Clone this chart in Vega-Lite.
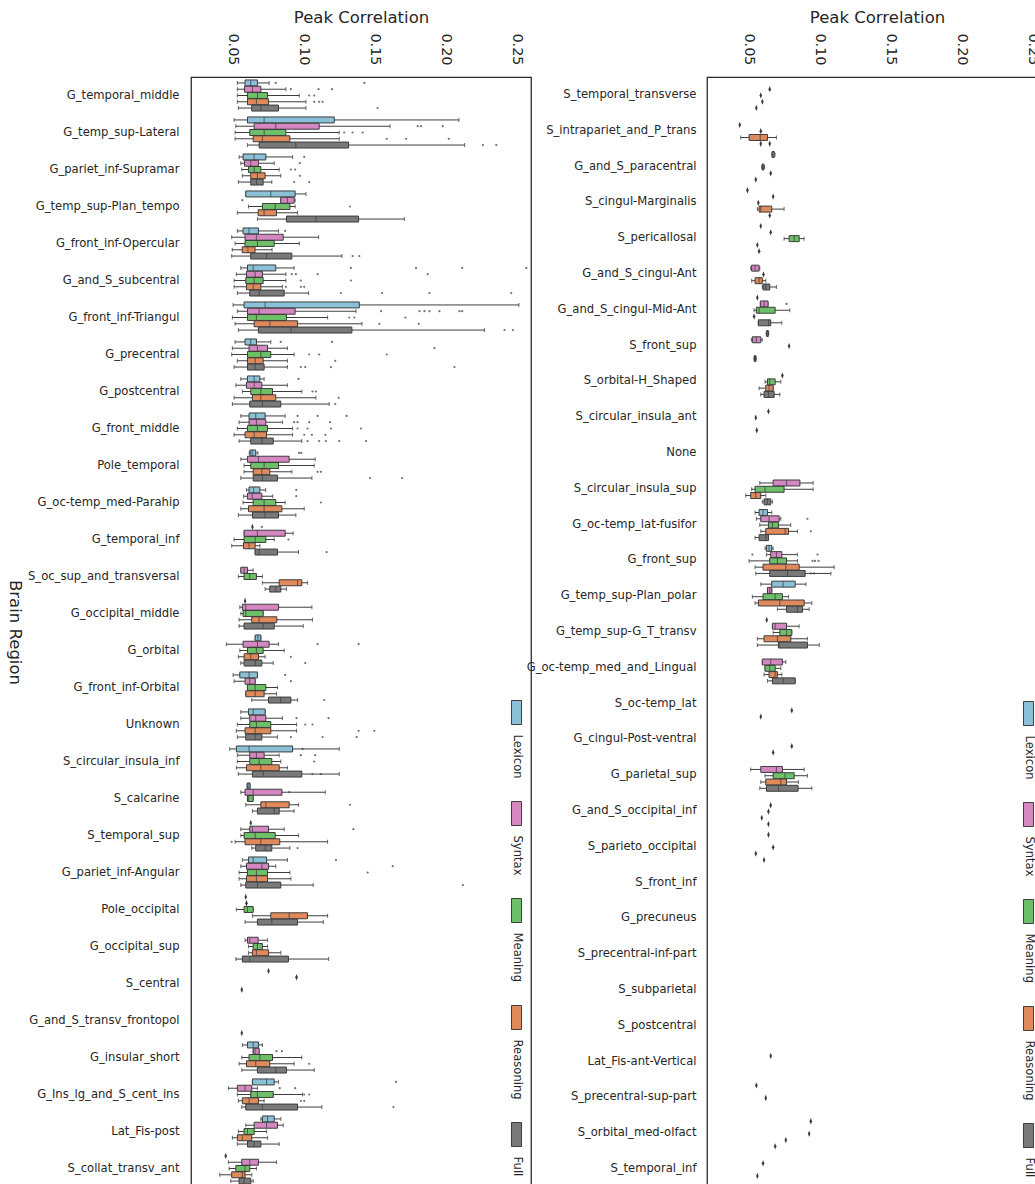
{
"$schema": "https://vega.github.io/schema/vega-lite/v6.json",
"autosize": {"type": "pad"},
"padding": {"left": 4, "top": 9, "right": 0, "bottom": 0},
"background": "white",
"config": {
 "font": "DejaVu Sans",
 "view": {"stroke": "#262626", "strokeWidth": 1.25},
 "axis": {"labelColor": "#262626", "titleColor": "#262626", "grid": false, "ticks": false, "domain": false},
 "tick": {"thickness": 1.1}
},
"datasets": {
"boxes": [
{"p":1,"r":"G_temporal_middle","c":"Lexicon","lo":0.0536,"q1":0.059,"md":0.063,"q3":0.0677,"hi":0.0759},
{"p":1,"r":"G_temporal_middle","c":"Syntax","lo":0.0536,"q1":0.0586,"md":0.0642,"q3":0.0701,"hi":0.0877},
{"p":1,"r":"G_temporal_middle","c":"Meaning","lo":0.0536,"q1":0.0607,"md":0.0677,"q3":0.0748,"hi":0.0971},
{"p":1,"r":"G_temporal_middle","c":"Reasoning","lo":0.0536,"q1":0.0607,"md":0.067,"q3":0.0755,"hi":0.1018},
{"p":1,"r":"G_temporal_middle","c":"Full","lo":0.0543,"q1":0.0637,"md":0.0701,"q3":0.0825,"hi":0.1018},
{"p":1,"r":"G_temp_sup-Lateral","c":"Lexicon","lo":0.0513,"q1":0.0607,"md":0.0724,"q3":0.1217,"hi":0.2093},
{"p":1,"r":"G_temp_sup-Lateral","c":"Syntax","lo":0.0525,"q1":0.0654,"md":0.0806,"q3":0.1111,"hi":0.1609},
{"p":1,"r":"G_temp_sup-Lateral","c":"Meaning","lo":0.052,"q1":0.0623,"md":0.0724,"q3":0.0877,"hi":0.1252},
{"p":1,"r":"G_temp_sup-Lateral","c":"Reasoning","lo":0.052,"q1":0.0647,"md":0.0712,"q3":0.0905,"hi":0.1252},
{"p":1,"r":"G_temp_sup-Lateral","c":"Full","lo":0.0607,"q1":0.0689,"md":0.0947,"q3":0.1318,"hi":0.2133},
{"p":1,"r":"G_pariet_inf-Supramar","c":"Lexicon","lo":0.0548,"q1":0.0576,"md":0.0654,"q3":0.0736,"hi":0.0924},
{"p":1,"r":"G_pariet_inf-Supramar","c":"Syntax","lo":0.056,"q1":0.0586,"md":0.063,"q3":0.0684,"hi":0.0795},
{"p":1,"r":"G_pariet_inf-Supramar","c":"Meaning","lo":0.0567,"q1":0.0614,"md":0.0654,"q3":0.0701,"hi":0.083},
{"p":1,"r":"G_pariet_inf-Supramar","c":"Reasoning","lo":0.0571,"q1":0.063,"md":0.0677,"q3":0.0731,"hi":0.0841},
{"p":1,"r":"G_pariet_inf-Supramar","c":"Full","lo":0.0543,"q1":0.063,"md":0.067,"q3":0.0717,"hi":0.0778},
{"p":1,"r":"G_temp_sup-Plan_tempo","c":"Lexicon","lo":0.0595,"q1":0.0595,"md":0.0771,"q3":0.0942,"hi":0.1018},
{"p":1,"r":"G_temp_sup-Plan_tempo","c":"Syntax","lo":0.0841,"q1":0.0841,"md":0.0888,"q3":0.0935,"hi":0.0942},
{"p":1,"r":"G_temp_sup-Plan_tempo","c":"Meaning","lo":0.0614,"q1":0.0712,"md":0.0802,"q3":0.0905,"hi":0.0942},
{"p":1,"r":"G_temp_sup-Plan_tempo","c":"Reasoning","lo":0.0536,"q1":0.0682,"md":0.0724,"q3":0.0811,"hi":0.0959},
{"p":1,"r":"G_temp_sup-Plan_tempo","c":"Full","lo":0.0677,"q1":0.0881,"md":0.1088,"q3":0.1388,"hi":0.171},
{"p":1,"r":"G_front_inf-Opercular","c":"Lexicon","lo":0.0536,"q1":0.0576,"md":0.0618,"q3":0.0684,"hi":0.0825},
{"p":1,"r":"G_front_inf-Opercular","c":"Syntax","lo":0.0496,"q1":0.059,"md":0.067,"q3":0.0858,"hi":0.1107},
{"p":1,"r":"G_front_inf-Opercular","c":"Meaning","lo":0.052,"q1":0.059,"md":0.0677,"q3":0.0795,"hi":0.0971},
{"p":1,"r":"G_front_inf-Opercular","c":"Reasoning","lo":0.05,"q1":0.057,"md":0.061,"q3":0.066,"hi":0.078},
{"p":1,"r":"G_front_inf-Opercular","c":"Full","lo":0.0496,"q1":0.063,"md":0.0741,"q3":0.0919,"hi":0.1271},
{"p":1,"r":"G_and_S_subcentral","c":"Lexicon","lo":0.056,"q1":0.0607,"md":0.0647,"q3":0.0806,"hi":0.0935},
{"p":1,"r":"G_and_S_subcentral","c":"Syntax","lo":0.0529,"q1":0.06,"md":0.0661,"q3":0.0712,"hi":0.0877},
{"p":1,"r":"G_and_S_subcentral","c":"Meaning","lo":0.0513,"q1":0.0595,"md":0.0654,"q3":0.0717,"hi":0.0877},
{"p":1,"r":"G_and_S_subcentral","c":"Reasoning","lo":0.0513,"q1":0.06,"md":0.0647,"q3":0.0701,"hi":0.0853},
{"p":1,"r":"G_and_S_subcentral","c":"Full","lo":0.0536,"q1":0.0623,"md":0.0689,"q3":0.0865,"hi":0.1036},
{"p":1,"r":"G_front_inf-Triangul","c":"Lexicon","lo":0.0506,"q1":0.0583,"md":0.0731,"q3":0.1393,"hi":0.2515},
{"p":1,"r":"G_front_inf-Triangul","c":"Syntax","lo":0.0536,"q1":0.0607,"md":0.0689,"q3":0.0942,"hi":0.137},
{"p":1,"r":"G_front_inf-Triangul","c":"Meaning","lo":0.0501,"q1":0.0607,"md":0.067,"q3":0.0881,"hi":0.117},
{"p":1,"r":"G_front_inf-Triangul","c":"Reasoning","lo":0.052,"q1":0.0654,"md":0.0764,"q3":0.0959,"hi":0.1412},
{"p":1,"r":"G_front_inf-Triangul","c":"Full","lo":0.0543,"q1":0.0684,"md":0.0912,"q3":0.1341,"hi":0.2273},
{"p":1,"r":"G_precentral","c":"Lexicon","lo":0.052,"q1":0.059,"md":0.063,"q3":0.067,"hi":0.0771},
{"p":1,"r":"G_precentral","c":"Syntax","lo":0.0501,"q1":0.0618,"md":0.0677,"q3":0.0748,"hi":0.0888},
{"p":1,"r":"G_precentral","c":"Meaning","lo":0.0496,"q1":0.0607,"md":0.0701,"q3":0.0771,"hi":0.0935},
{"p":1,"r":"G_precentral","c":"Reasoning","lo":0.0536,"q1":0.0607,"md":0.0661,"q3":0.0717,"hi":0.0888},
{"p":1,"r":"G_precentral","c":"Full","lo":0.0513,"q1":0.0607,"md":0.0661,"q3":0.0724,"hi":0.0888},
{"p":1,"r":"G_postcentral","c":"Lexicon","lo":0.056,"q1":0.0607,"md":0.0654,"q3":0.0694,"hi":0.0724},
{"p":1,"r":"G_postcentral","c":"Syntax","lo":0.0525,"q1":0.06,"md":0.0654,"q3":0.0708,"hi":0.0888},
{"p":1,"r":"G_postcentral","c":"Meaning","lo":0.0571,"q1":0.063,"md":0.0701,"q3":0.0783,"hi":0.0989},
{"p":1,"r":"G_postcentral","c":"Reasoning","lo":0.0513,"q1":0.0642,"md":0.0701,"q3":0.0806,"hi":0.1088},
{"p":1,"r":"G_postcentral","c":"Full","lo":0.0501,"q1":0.0623,"md":0.0712,"q3":0.0841,"hi":0.1182},
{"p":1,"r":"G_front_middle","c":"Lexicon","lo":0.056,"q1":0.0618,"md":0.0665,"q3":0.0731,"hi":0.0872},
{"p":1,"r":"G_front_middle","c":"Syntax","lo":0.0548,"q1":0.0618,"md":0.067,"q3":0.0736,"hi":0.0853},
{"p":1,"r":"G_front_middle","c":"Meaning","lo":0.0536,"q1":0.0607,"md":0.0677,"q3":0.0748,"hi":0.0924},
{"p":1,"r":"G_front_middle","c":"Reasoning","lo":0.0513,"q1":0.059,"md":0.0654,"q3":0.0741,"hi":0.0924},
{"p":1,"r":"G_front_middle","c":"Full","lo":0.0548,"q1":0.063,"md":0.0708,"q3":0.0788,"hi":0.0989},
{"p":1,"r":"Pole_temporal","c":"Lexicon","lo":0.062,"q1":0.0625,"md":0.064,"q3":0.0665,"hi":0.068},
{"p":1,"r":"Pole_temporal","c":"Syntax","lo":0.056,"q1":0.0607,"md":0.0684,"q3":0.09,"hi":0.1083},
{"p":1,"r":"Pole_temporal","c":"Meaning","lo":0.0583,"q1":0.063,"md":0.0724,"q3":0.0825,"hi":0.1076},
{"p":1,"r":"Pole_temporal","c":"Reasoning","lo":0.0583,"q1":0.0647,"md":0.0708,"q3":0.0764,"hi":0.0919},
{"p":1,"r":"Pole_temporal","c":"Full","lo":0.056,"q1":0.0647,"md":0.0712,"q3":0.0818,"hi":0.106},
{"p":1,"r":"G_oc-temp_med-Parahip","c":"Lexicon","lo":0.06,"q1":0.0618,"md":0.065,"q3":0.0694,"hi":0.0735},
{"p":1,"r":"G_oc-temp_med-Parahip","c":"Syntax","lo":0.058,"q1":0.0607,"md":0.064,"q3":0.0708,"hi":0.0785},
{"p":1,"r":"G_oc-temp_med-Parahip","c":"Meaning","lo":0.0576,"q1":0.0647,"md":0.0724,"q3":0.0806,"hi":0.0872},
{"p":1,"r":"G_oc-temp_med-Parahip","c":"Reasoning","lo":0.056,"q1":0.0614,"md":0.0724,"q3":0.0849,"hi":0.1006},
{"p":1,"r":"G_oc-temp_med-Parahip","c":"Full","lo":0.0543,"q1":0.0642,"md":0.0731,"q3":0.0825,"hi":0.0947},
{"p":1,"r":"G_temporal_inf","c":"Syntax","lo":0.0583,"q1":0.0583,"md":0.0677,"q3":0.0872,"hi":0.0928},
{"p":1,"r":"G_temporal_inf","c":"Meaning","lo":0.0513,"q1":0.0583,"md":0.0661,"q3":0.0736,"hi":0.0795},
{"p":1,"r":"G_temporal_inf","c":"Reasoning","lo":0.0496,"q1":0.0579,"md":0.0618,"q3":0.0661,"hi":0.0694},
{"p":1,"r":"G_temporal_inf","c":"Full","lo":0.0661,"q1":0.0661,"md":0.0689,"q3":0.0818,"hi":0.0966},
{"p":1,"r":"S_oc_sup_and_transversal","c":"Syntax","lo":0.056,"q1":0.056,"md":0.0583,"q3":0.0607,"hi":0.0647},
{"p":1,"r":"S_oc_sup_and_transversal","c":"Meaning","lo":0.0543,"q1":0.0583,"md":0.0623,"q3":0.067,"hi":0.0712},
{"p":1,"r":"S_oc_sup_and_transversal","c":"Reasoning","lo":0.0712,"q1":0.083,"md":0.0959,"q3":0.0989,"hi":0.1029},
{"p":1,"r":"S_oc_sup_and_transversal","c":"Full","lo":0.0731,"q1":0.0764,"md":0.0806,"q3":0.0841,"hi":0.0881},
{"p":1,"r":"G_occipital_middle","c":"Syntax","lo":0.0553,"q1":0.0571,"md":0.0595,"q3":0.0825,"hi":0.106},
{"p":1,"r":"G_occipital_middle","c":"Meaning","lo":0.056,"q1":0.0576,"md":0.0595,"q3":0.0717,"hi":0.0717},
{"p":1,"r":"G_occipital_middle","c":"Reasoning","lo":0.0548,"q1":0.0637,"md":0.0689,"q3":0.0813,"hi":0.1064},
{"p":1,"r":"G_occipital_middle","c":"Full","lo":0.0548,"q1":0.0583,"md":0.0717,"q3":0.0795,"hi":0.0999},
{"p":1,"r":"G_orbital","c":"Lexicon","lo":0.0661,"q1":0.0661,"md":0.068,"q3":0.0701,"hi":0.0701},
{"p":1,"r":"G_orbital","c":"Syntax","lo":0.0459,"q1":0.0576,"md":0.0677,"q3":0.0759,"hi":0.0825},
{"p":1,"r":"G_orbital","c":"Meaning","lo":0.0553,"q1":0.0607,"md":0.067,"q3":0.0717,"hi":0.0865},
{"p":1,"r":"G_orbital","c":"Reasoning","lo":0.0543,"q1":0.0583,"md":0.063,"q3":0.0684,"hi":0.0731},
{"p":1,"r":"G_orbital","c":"Full","lo":0.056,"q1":0.0583,"md":0.0661,"q3":0.0708,"hi":0.0788},
{"p":1,"r":"G_front_inf-Orbital","c":"Lexicon","lo":0.0506,"q1":0.0553,"md":0.0618,"q3":0.0677,"hi":0.0677},
{"p":1,"r":"G_front_inf-Orbital","c":"Syntax","lo":0.0513,"q1":0.059,"md":0.0623,"q3":0.0661,"hi":0.0661},
{"p":1,"r":"G_front_inf-Orbital","c":"Meaning","lo":0.0607,"q1":0.0607,"md":0.0661,"q3":0.0736,"hi":0.0818},
{"p":1,"r":"G_front_inf-Orbital","c":"Reasoning","lo":0.0595,"q1":0.0595,"md":0.0661,"q3":0.0724,"hi":0.0811},
{"p":1,"r":"G_front_inf-Orbital","c":"Full","lo":0.0637,"q1":0.0755,"md":0.0841,"q3":0.0912,"hi":0.0959},
{"p":1,"r":"Unknown","c":"Lexicon","lo":0.056,"q1":0.0614,"md":0.0647,"q3":0.0731,"hi":0.0731},
{"p":1,"r":"Unknown","c":"Syntax","lo":0.056,"q1":0.0623,"md":0.0665,"q3":0.0736,"hi":0.0853},
{"p":1,"r":"Unknown","c":"Meaning","lo":0.0536,"q1":0.0623,"md":0.067,"q3":0.0771,"hi":0.0952},
{"p":1,"r":"Unknown","c":"Reasoning","lo":0.0529,"q1":0.059,"md":0.0661,"q3":0.0771,"hi":0.0952},
{"p":1,"r":"Unknown","c":"Full","lo":0.0536,"q1":0.0595,"md":0.0661,"q3":0.0708,"hi":0.0818},
{"p":1,"r":"S_circular_insula_inf","c":"Lexicon","lo":0.0482,"q1":0.0529,"md":0.0618,"q3":0.0924,"hi":0.1252},
{"p":1,"r":"S_circular_insula_inf","c":"Syntax","lo":0.0536,"q1":0.0623,"md":0.067,"q3":0.0724,"hi":0.083},
{"p":1,"r":"S_circular_insula_inf","c":"Meaning","lo":0.0536,"q1":0.0623,"md":0.0689,"q3":0.0778,"hi":0.0841},
{"p":1,"r":"S_circular_insula_inf","c":"Reasoning","lo":0.0529,"q1":0.06,"md":0.0701,"q3":0.083,"hi":0.0888},
{"p":1,"r":"S_circular_insula_inf","c":"Full","lo":0.0543,"q1":0.0642,"md":0.0717,"q3":0.0989,"hi":0.1252},
{"p":1,"r":"S_calcarine","c":"Lexicon","lo":0.0605,"q1":0.0605,"md":0.0612,"q3":0.0625,"hi":0.0625},
{"p":1,"r":"S_calcarine","c":"Syntax","lo":0.056,"q1":0.059,"md":0.0647,"q3":0.0849,"hi":0.1154},
{"p":1,"r":"S_calcarine","c":"Meaning","lo":0.0607,"q1":0.0607,"md":0.0615,"q3":0.0647,"hi":0.0647},
{"p":1,"r":"S_calcarine","c":"Reasoning","lo":0.0595,"q1":0.0701,"md":0.0736,"q3":0.09,"hi":0.0966},
{"p":1,"r":"S_calcarine","c":"Full","lo":0.0642,"q1":0.0677,"md":0.0795,"q3":0.083,"hi":0.0935},
{"p":1,"r":"S_temporal_sup","c":"Syntax","lo":0.056,"q1":0.0623,"md":0.0642,"q3":0.0755,"hi":0.0865},
{"p":1,"r":"S_temporal_sup","c":"Meaning","lo":0.056,"q1":0.0583,"md":0.0661,"q3":0.0802,"hi":0.0966},
{"p":1,"r":"S_temporal_sup","c":"Reasoning","lo":0.052,"q1":0.059,"md":0.0701,"q3":0.0834,"hi":0.117},
{"p":1,"r":"S_temporal_sup","c":"Full","lo":0.0637,"q1":0.0665,"md":0.0731,"q3":0.0778,"hi":0.0905},
{"p":1,"r":"G_pariet_inf-Angular","c":"Lexicon","lo":0.0571,"q1":0.0614,"md":0.0647,"q3":0.0741,"hi":0.0888},
{"p":1,"r":"G_pariet_inf-Angular","c":"Syntax","lo":0.056,"q1":0.06,"md":0.0708,"q3":0.0755,"hi":0.0806},
{"p":1,"r":"G_pariet_inf-Angular","c":"Meaning","lo":0.0548,"q1":0.0607,"md":0.067,"q3":0.0748,"hi":0.0905},
{"p":1,"r":"G_pariet_inf-Angular","c":"Reasoning","lo":0.0548,"q1":0.06,"md":0.067,"q3":0.0748,"hi":0.0912},
{"p":1,"r":"G_pariet_inf-Angular","c":"Full","lo":0.056,"q1":0.0595,"md":0.0677,"q3":0.0841,"hi":0.1069},
{"p":1,"r":"Pole_occipital","c":"Meaning","lo":0.0529,"q1":0.0583,"md":0.0607,"q3":0.0647,"hi":0.0647},
{"p":1,"r":"Pole_occipital","c":"Reasoning","lo":0.0642,"q1":0.0771,"md":0.09,"q3":0.1029,"hi":0.117},
{"p":1,"r":"Pole_occipital","c":"Full","lo":0.059,"q1":0.0677,"md":0.0778,"q3":0.0959,"hi":0.114},
{"p":1,"r":"G_occipital_sup","c":"Syntax","lo":0.059,"q1":0.0607,"md":0.0623,"q3":0.0682,"hi":0.0748},
{"p":1,"r":"G_occipital_sup","c":"Meaning","lo":0.0614,"q1":0.0647,"md":0.0677,"q3":0.0712,"hi":0.0748},
{"p":1,"r":"G_occipital_sup","c":"Reasoning","lo":0.0614,"q1":0.0642,"md":0.067,"q3":0.0755,"hi":0.0841},
{"p":1,"r":"G_occipital_sup","c":"Full","lo":0.0525,"q1":0.0571,"md":0.0623,"q3":0.0895,"hi":0.1177},
{"p":1,"r":"G_insular_short","c":"Lexicon","lo":0.0571,"q1":0.0607,"md":0.0647,"q3":0.0684,"hi":0.0712},
{"p":1,"r":"G_insular_short","c":"Syntax","lo":0.0647,"q1":0.0647,"md":0.066,"q3":0.0689,"hi":0.0689},
{"p":1,"r":"G_insular_short","c":"Meaning","lo":0.0567,"q1":0.0618,"md":0.0694,"q3":0.0783,"hi":0.0989},
{"p":1,"r":"G_insular_short","c":"Reasoning","lo":0.0548,"q1":0.06,"md":0.0665,"q3":0.0764,"hi":0.0935},
{"p":1,"r":"G_insular_short","c":"Full","lo":0.0567,"q1":0.0677,"md":0.0806,"q3":0.0881,"hi":0.1076},
{"p":1,"r":"G_Ins_lg_and_S_cent_ins","c":"Lexicon","lo":0.0642,"q1":0.0642,"md":0.0741,"q3":0.0795,"hi":0.0825},
{"p":1,"r":"G_Ins_lg_and_S_cent_ins","c":"Syntax","lo":0.0473,"q1":0.0536,"md":0.059,"q3":0.0637,"hi":0.0677},
{"p":1,"r":"G_Ins_lg_and_S_cent_ins","c":"Meaning","lo":0.0536,"q1":0.063,"md":0.0677,"q3":0.0788,"hi":0.0994},
{"p":1,"r":"G_Ins_lg_and_S_cent_ins","c":"Reasoning","lo":0.0543,"q1":0.0571,"md":0.0618,"q3":0.0684,"hi":0.0724},
{"p":1,"r":"G_Ins_lg_and_S_cent_ins","c":"Full","lo":0.0567,"q1":0.0595,"md":0.0712,"q3":0.0959,"hi":0.113},
{"p":1,"r":"Lat_Fis-post","c":"Lexicon","lo":0.0701,"q1":0.0712,"md":0.0748,"q3":0.0795,"hi":0.0841},
{"p":1,"r":"Lat_Fis-post","c":"Syntax","lo":0.0595,"q1":0.0654,"md":0.0741,"q3":0.0818,"hi":0.0858},
{"p":1,"r":"Lat_Fis-post","c":"Meaning","lo":0.0543,"q1":0.0583,"md":0.0607,"q3":0.0654,"hi":0.0741},
{"p":1,"r":"Lat_Fis-post","c":"Reasoning","lo":0.0501,"q1":0.0536,"md":0.0571,"q3":0.0637,"hi":0.0748},
{"p":1,"r":"Lat_Fis-post","c":"Full","lo":0.0536,"q1":0.0607,"md":0.0654,"q3":0.0701,"hi":0.083},
{"p":1,"r":"S_collat_transv_ant","c":"Syntax","lo":0.0473,"q1":0.0567,"md":0.0623,"q3":0.0684,"hi":0.0811},
{"p":1,"r":"S_collat_transv_ant","c":"Meaning","lo":0.0478,"q1":0.0525,"md":0.059,"q3":0.0623,"hi":0.067},
{"p":1,"r":"S_collat_transv_ant","c":"Reasoning","lo":0.0412,"q1":0.0496,"md":0.0571,"q3":0.059,"hi":0.0637},
{"p":1,"r":"S_collat_transv_ant","c":"Full","lo":0.0489,"q1":0.0548,"md":0.0583,"q3":0.063,"hi":0.0647},
{"p":2,"r":"S_intrapariet_and_P_trans","c":"Reasoning","lo":0.0447,"q1":0.0506,"md":0.0584,"q3":0.0635,"hi":0.0698},
{"p":2,"r":"G_and_S_paracentral","c":"Lexicon","lo":0.0665,"q1":0.0668,"md":0.0675,"q3":0.0683,"hi":0.0688},
{"p":2,"r":"G_and_S_paracentral","c":"Meaning","lo":0.0595,"q1":0.0598,"md":0.0604,"q3":0.061,"hi":0.0614},
{"p":2,"r":"S_cingul-Marginalis","c":"Reasoning","lo":0.0564,"q1":0.0576,"md":0.0588,"q3":0.0665,"hi":0.0752},
{"p":2,"r":"S_pericallosal","c":"Meaning","lo":0.0752,"q1":0.0787,"md":0.0823,"q3":0.0858,"hi":0.0893},
{"p":2,"r":"G_and_S_cingul-Ant","c":"Syntax","lo":0.0517,"q1":0.0524,"md":0.0548,"q3":0.0576,"hi":0.0581},
{"p":2,"r":"G_and_S_cingul-Ant","c":"Reasoning","lo":0.0524,"q1":0.0548,"md":0.0576,"q3":0.0599,"hi":0.0623},
{"p":2,"r":"G_and_S_cingul-Ant","c":"Full","lo":0.0599,"q1":0.0604,"md":0.0623,"q3":0.0651,"hi":0.0698},
{"p":2,"r":"G_and_S_cingul-Mid-Ant","c":"Syntax","lo":0.0585,"q1":0.0585,"md":0.0611,"q3":0.0639,"hi":0.0639},
{"p":2,"r":"G_and_S_cingul-Mid-Ant","c":"Meaning","lo":0.0541,"q1":0.0557,"md":0.0576,"q3":0.0689,"hi":0.0792},
{"p":2,"r":"G_and_S_cingul-Mid-Ant","c":"Full","lo":0.0571,"q1":0.0571,"md":0.0642,"q3":0.0658,"hi":0.0736},
{"p":2,"r":"S_front_sup","c":"Lexicon","lo":0.0626,"q1":0.0629,"md":0.0635,"q3":0.0641,"hi":0.0644},
{"p":2,"r":"S_front_sup","c":"Syntax","lo":0.0522,"q1":0.0529,"md":0.0557,"q3":0.0588,"hi":0.0599},
{"p":2,"r":"S_front_sup","c":"Full","lo":0.054,"q1":0.0543,"md":0.0548,"q3":0.0553,"hi":0.0556},
{"p":2,"r":"S_orbital-H_Shaped","c":"Meaning","lo":0.0618,"q1":0.0635,"md":0.0651,"q3":0.0689,"hi":0.0729},
{"p":2,"r":"S_orbital-H_Shaped","c":"Reasoning","lo":0.0576,"q1":0.0623,"md":0.0646,"q3":0.0675,"hi":0.0675},
{"p":2,"r":"S_orbital-H_Shaped","c":"Full","lo":0.0588,"q1":0.0611,"md":0.0642,"q3":0.0682,"hi":0.0722},
{"p":2,"r":"S_circular_insula_sup","c":"Syntax","lo":0.0581,"q1":0.0675,"md":0.0769,"q3":0.0863,"hi":0.0956},
{"p":2,"r":"S_circular_insula_sup","c":"Meaning","lo":0.0524,"q1":0.0548,"md":0.0618,"q3":0.0752,"hi":0.0956},
{"p":2,"r":"S_circular_insula_sup","c":"Reasoning","lo":0.0482,"q1":0.0517,"md":0.0552,"q3":0.0588,"hi":0.0623},
{"p":2,"r":"S_circular_insula_sup","c":"Full","lo":0.0599,"q1":0.0611,"md":0.0635,"q3":0.0658,"hi":0.067},
{"p":2,"r":"G_oc-temp_lat-fusifor","c":"Lexicon","lo":0.0548,"q1":0.0576,"md":0.0604,"q3":0.0635,"hi":0.0665},
{"p":2,"r":"G_oc-temp_lat-fusifor","c":"Syntax","lo":0.0557,"q1":0.0588,"md":0.0646,"q3":0.0717,"hi":0.0729},
{"p":2,"r":"G_oc-temp_lat-fusifor","c":"Meaning","lo":0.0581,"q1":0.0642,"md":0.067,"q3":0.0712,"hi":0.0799},
{"p":2,"r":"G_oc-temp_lat-fusifor","c":"Reasoning","lo":0.0588,"q1":0.0623,"md":0.0759,"q3":0.0783,"hi":0.0846},
{"p":2,"r":"G_oc-temp_lat-fusifor","c":"Full","lo":0.0548,"q1":0.0576,"md":0.0623,"q3":0.0642,"hi":0.0642},
{"p":2,"r":"G_front_sup","c":"Lexicon","lo":0.0618,"q1":0.0628,"md":0.0646,"q3":0.0665,"hi":0.0675},
{"p":2,"r":"G_front_sup","c":"Syntax","lo":0.0628,"q1":0.0658,"md":0.0698,"q3":0.0736,"hi":0.0846},
{"p":2,"r":"G_front_sup","c":"Meaning","lo":0.0506,"q1":0.0651,"md":0.0705,"q3":0.0769,"hi":0.0846},
{"p":2,"r":"G_front_sup","c":"Reasoning","lo":0.0548,"q1":0.0604,"md":0.0764,"q3":0.0858,"hi":0.1104},
{"p":2,"r":"G_front_sup","c":"Full","lo":0.0553,"q1":0.0651,"md":0.0776,"q3":0.09,"hi":0.1081},
{"p":2,"r":"G_temp_sup-Plan_polar","c":"Lexicon","lo":0.0588,"q1":0.0665,"md":0.0745,"q3":0.083,"hi":0.0905},
{"p":2,"r":"G_temp_sup-Plan_polar","c":"Syntax","lo":0.0635,"q1":0.0635,"md":0.0651,"q3":0.0665,"hi":0.0665},
{"p":2,"r":"G_temp_sup-Plan_polar","c":"Meaning","lo":0.0529,"q1":0.0604,"md":0.0689,"q3":0.074,"hi":0.0783},
{"p":2,"r":"G_temp_sup-Plan_polar","c":"Reasoning","lo":0.0548,"q1":0.0571,"md":0.0722,"q3":0.0893,"hi":0.0947},
{"p":2,"r":"G_temp_sup-Plan_polar","c":"Full","lo":0.0705,"q1":0.0769,"md":0.0846,"q3":0.0881,"hi":0.0928},
{"p":2,"r":"G_temp_sup-G_T_transv","c":"Syntax","lo":0.067,"q1":0.067,"md":0.0689,"q3":0.0769,"hi":0.0858},
{"p":2,"r":"G_temp_sup-G_T_transv","c":"Meaning","lo":0.0675,"q1":0.0722,"md":0.0769,"q3":0.0806,"hi":0.0806},
{"p":2,"r":"G_temp_sup-G_T_transv","c":"Reasoning","lo":0.0564,"q1":0.0611,"md":0.0705,"q3":0.0799,"hi":0.0916},
{"p":2,"r":"G_temp_sup-G_T_transv","c":"Full","lo":0.0564,"q1":0.0712,"md":0.0717,"q3":0.0916,"hi":0.0999},
{"p":2,"r":"G_oc-temp_med_and_Lingual","c":"Syntax","lo":0.0599,"q1":0.0599,"md":0.0658,"q3":0.074,"hi":0.0764},
{"p":2,"r":"G_oc-temp_med_and_Lingual","c":"Meaning","lo":0.0618,"q1":0.0618,"md":0.0651,"q3":0.0689,"hi":0.0729},
{"p":2,"r":"G_oc-temp_med_and_Lingual","c":"Reasoning","lo":0.0611,"q1":0.0646,"md":0.0689,"q3":0.0705,"hi":0.0736},
{"p":2,"r":"G_oc-temp_med_and_Lingual","c":"Full","lo":0.0635,"q1":0.067,"md":0.0745,"q3":0.083,"hi":0.083},
{"p":2,"r":"G_parietal_sup","c":"Syntax","lo":0.0517,"q1":0.0588,"md":0.0698,"q3":0.074,"hi":0.0893},
{"p":2,"r":"G_parietal_sup","c":"Meaning","lo":0.0618,"q1":0.0675,"md":0.0759,"q3":0.0823,"hi":0.0916},
{"p":2,"r":"G_parietal_sup","c":"Reasoning","lo":0.0588,"q1":0.0623,"md":0.0729,"q3":0.0769,"hi":0.0853},
{"p":2,"r":"G_parietal_sup","c":"Full","lo":0.0581,"q1":0.0628,"md":0.0712,"q3":0.085,"hi":0.0947}
],
"pts": [
{"p":1,"r":"G_temporal_middle","c":"Lexicon","v":0.0806},{"p":1,"r":"G_temporal_middle","c":"Lexicon","v":0.1428},
{"p":1,"r":"G_temporal_middle","c":"Syntax","v":0.0912},{"p":1,"r":"G_temporal_middle","c":"Syntax","v":0.1107},{"p":1,"r":"G_temporal_middle","c":"Syntax","v":0.1201},
{"p":1,"r":"G_temporal_middle","c":"Meaning","v":0.1041},{"p":1,"r":"G_temporal_middle","c":"Meaning","v":0.1076},
{"p":1,"r":"G_temporal_middle","c":"Reasoning","v":0.1076},{"p":1,"r":"G_temporal_middle","c":"Reasoning","v":0.1111},{"p":1,"r":"G_temporal_middle","c":"Reasoning","v":0.1135},
{"p":1,"r":"G_temporal_middle","c":"Full","v":0.1522},
{"p":1,"r":"G_temp_sup-Lateral","c":"Syntax","v":0.1804},{"p":1,"r":"G_temp_sup-Lateral","c":"Syntax","v":0.1827},{"p":1,"r":"G_temp_sup-Lateral","c":"Syntax","v":0.198},
{"p":1,"r":"G_temp_sup-Lateral","c":"Meaning","v":0.1287},{"p":1,"r":"G_temp_sup-Lateral","c":"Meaning","v":0.1346},{"p":1,"r":"G_temp_sup-Lateral","c":"Meaning","v":0.1417},
{"p":1,"r":"G_temp_sup-Lateral","c":"Reasoning","v":0.1586},{"p":1,"r":"G_temp_sup-Lateral","c":"Reasoning","v":0.1722},{"p":1,"r":"G_temp_sup-Lateral","c":"Reasoning","v":0.2022},
{"p":1,"r":"G_temp_sup-Lateral","c":"Full","v":0.2262},{"p":1,"r":"G_temp_sup-Lateral","c":"Full","v":0.2356},
{"p":1,"r":"G_pariet_inf-Supramar","c":"Lexicon","v":0.1006},{"p":1,"r":"G_pariet_inf-Supramar","c":"Syntax","v":0.0975},
{"p":1,"r":"G_pariet_inf-Supramar","c":"Meaning","v":0.0912},{"p":1,"r":"G_pariet_inf-Supramar","c":"Meaning","v":0.0942},
{"p":1,"r":"G_pariet_inf-Supramar","c":"Reasoning","v":0.0975},
{"p":1,"r":"G_pariet_inf-Supramar","c":"Full","v":0.0935},{"p":1,"r":"G_pariet_inf-Supramar","c":"Full","v":0.1041},
{"p":1,"r":"G_temp_sup-Plan_tempo","c":"Syntax","v":0.0571},{"p":1,"r":"G_temp_sup-Plan_tempo","c":"Meaning","v":0.1327},
{"p":1,"r":"G_front_inf-Opercular","c":"Lexicon","v":0.0872},
{"p":1,"r":"G_front_inf-Opercular","c":"Full","v":0.1346},{"p":1,"r":"G_front_inf-Opercular","c":"Full","v":0.1393},
{"p":1,"r":"G_and_S_subcentral","c":"Lexicon","v":0.1334},{"p":1,"r":"G_and_S_subcentral","c":"Lexicon","v":0.1792},{"p":1,"r":"G_and_S_subcentral","c":"Lexicon","v":0.2116},{"p":1,"r":"G_and_S_subcentral","c":"Lexicon","v":0.2567},
{"p":1,"r":"G_and_S_subcentral","c":"Syntax","v":0.0919},{"p":1,"r":"G_and_S_subcentral","c":"Syntax","v":0.0947},{"p":1,"r":"G_and_S_subcentral","c":"Syntax","v":0.11},{"p":1,"r":"G_and_S_subcentral","c":"Syntax","v":0.1874},
{"p":1,"r":"G_and_S_subcentral","c":"Meaning","v":0.0982},{"p":1,"r":"G_and_S_subcentral","c":"Meaning","v":0.1334},
{"p":1,"r":"G_and_S_subcentral","c":"Reasoning","v":0.0877},{"p":1,"r":"G_and_S_subcentral","c":"Reasoning","v":0.0982},{"p":1,"r":"G_and_S_subcentral","c":"Reasoning","v":0.1006},
{"p":1,"r":"G_and_S_subcentral","c":"Full","v":0.1264},{"p":1,"r":"G_and_S_subcentral","c":"Full","v":0.1553},{"p":1,"r":"G_and_S_subcentral","c":"Full","v":0.1886},{"p":1,"r":"G_and_S_subcentral","c":"Full","v":0.2461},
{"p":1,"r":"G_front_inf-Triangul","c":"Syntax","v":0.1546},{"p":1,"r":"G_front_inf-Triangul","c":"Syntax","v":0.1816},{"p":1,"r":"G_front_inf-Triangul","c":"Syntax","v":0.1851},{"p":1,"r":"G_front_inf-Triangul","c":"Syntax","v":0.1886},{"p":1,"r":"G_front_inf-Triangul","c":"Syntax","v":0.1956},{"p":1,"r":"G_front_inf-Triangul","c":"Syntax","v":0.2097},{"p":1,"r":"G_front_inf-Triangul","c":"Syntax","v":0.2116},
{"p":1,"r":"G_front_inf-Triangul","c":"Meaning","v":0.1323},{"p":1,"r":"G_front_inf-Triangul","c":"Meaning","v":0.1358},{"p":1,"r":"G_front_inf-Triangul","c":"Meaning","v":0.1717},
{"p":1,"r":"G_front_inf-Triangul","c":"Reasoning","v":0.1534},{"p":1,"r":"G_front_inf-Triangul","c":"Reasoning","v":0.1811},
{"p":1,"r":"G_front_inf-Triangul","c":"Full","v":0.2414},{"p":1,"r":"G_front_inf-Triangul","c":"Full","v":0.2473},
{"p":1,"r":"G_precentral","c":"Lexicon","v":0.0841},{"p":1,"r":"G_precentral","c":"Lexicon","v":0.1201},
{"p":1,"r":"G_precentral","c":"Syntax","v":0.1921},
{"p":1,"r":"G_precentral","c":"Meaning","v":0.1041},{"p":1,"r":"G_precentral","c":"Meaning","v":0.1111},{"p":1,"r":"G_precentral","c":"Meaning","v":0.1586},
{"p":1,"r":"G_precentral","c":"Reasoning","v":0.1224},
{"p":1,"r":"G_precentral","c":"Full","v":0.0982},{"p":1,"r":"G_precentral","c":"Full","v":0.1013},{"p":1,"r":"G_precentral","c":"Full","v":0.1194},{"p":1,"r":"G_precentral","c":"Full","v":0.2062},
{"p":1,"r":"G_postcentral","c":"Lexicon","v":0.0966},
{"p":1,"r":"G_postcentral","c":"Meaning","v":0.1064},{"p":1,"r":"G_postcentral","c":"Meaning","v":0.1088},
{"p":1,"r":"G_postcentral","c":"Reasoning","v":0.1248},{"p":1,"r":"G_postcentral","c":"Full","v":0.1224},
{"p":1,"r":"G_front_middle","c":"Lexicon","v":0.0959},{"p":1,"r":"G_front_middle","c":"Lexicon","v":0.11},{"p":1,"r":"G_front_middle","c":"Lexicon","v":0.1304},
{"p":1,"r":"G_front_middle","c":"Syntax","v":0.0935},{"p":1,"r":"G_front_middle","c":"Syntax","v":0.0959},{"p":1,"r":"G_front_middle","c":"Syntax","v":0.1041},{"p":1,"r":"G_front_middle","c":"Syntax","v":0.1187},
{"p":1,"r":"G_front_middle","c":"Meaning","v":0.0959},{"p":1,"r":"G_front_middle","c":"Meaning","v":0.1029},{"p":1,"r":"G_front_middle","c":"Meaning","v":0.1194},{"p":1,"r":"G_front_middle","c":"Meaning","v":0.1405},
{"p":1,"r":"G_front_middle","c":"Reasoning","v":0.1006},{"p":1,"r":"G_front_middle","c":"Reasoning","v":0.106},{"p":1,"r":"G_front_middle","c":"Reasoning","v":0.1154},
{"p":1,"r":"G_front_middle","c":"Full","v":0.1029},{"p":1,"r":"G_front_middle","c":"Full","v":0.1111},{"p":1,"r":"G_front_middle","c":"Full","v":0.1158},{"p":1,"r":"G_front_middle","c":"Full","v":0.1252},{"p":1,"r":"G_front_middle","c":"Full","v":0.144},
{"p":1,"r":"Pole_temporal","c":"Lexicon","v":0.097},{"p":1,"r":"Pole_temporal","c":"Lexicon","v":0.0985},
{"p":1,"r":"Pole_temporal","c":"Reasoning","v":0.11},{"p":1,"r":"Pole_temporal","c":"Reasoning","v":0.1123},
{"p":1,"r":"Pole_temporal","c":"Full","v":0.1468},{"p":1,"r":"Pole_temporal","c":"Full","v":0.1694},
{"p":1,"r":"G_oc-temp_med-Parahip","c":"Lexicon","v":0.095},{"p":1,"r":"G_oc-temp_med-Parahip","c":"Syntax","v":0.095},
{"p":1,"r":"G_oc-temp_med-Parahip","c":"Meaning","v":0.1123},
{"p":1,"r":"G_temporal_inf","c":"Lexicon","v":0.0708},{"p":1,"r":"G_temporal_inf","c":"Meaning","v":0.0895},{"p":1,"r":"G_temporal_inf","c":"Full","v":0.1163},
{"p":1,"r":"G_orbital","c":"Syntax","v":0.11},{"p":1,"r":"G_orbital","c":"Syntax","v":0.1388},
{"p":1,"r":"G_orbital","c":"Reasoning","v":0.0912},{"p":1,"r":"G_orbital","c":"Full","v":0.1013},
{"p":1,"r":"G_front_inf-Orbital","c":"Lexicon","v":0.0872},{"p":1,"r":"G_front_inf-Orbital","c":"Syntax","v":0.0912},{"p":1,"r":"G_front_inf-Orbital","c":"Full","v":0.1147},
{"p":1,"r":"Unknown","c":"Syntax","v":0.0952},{"p":1,"r":"Unknown","c":"Syntax","v":0.1177},
{"p":1,"r":"Unknown","c":"Meaning","v":0.1013},{"p":1,"r":"Unknown","c":"Meaning","v":0.1064},
{"p":1,"r":"Unknown","c":"Reasoning","v":0.1388},{"p":1,"r":"Unknown","c":"Reasoning","v":0.1499},
{"p":1,"r":"Unknown","c":"Full","v":0.0912},{"p":1,"r":"Unknown","c":"Full","v":0.1135},{"p":1,"r":"Unknown","c":"Full","v":0.1374},
{"p":1,"r":"S_circular_insula_inf","c":"Lexicon","v":0.0994},
{"p":1,"r":"S_circular_insula_inf","c":"Syntax","v":0.0982},{"p":1,"r":"S_circular_insula_inf","c":"Syntax","v":0.1083},
{"p":1,"r":"S_circular_insula_inf","c":"Meaning","v":0.1076},
{"p":1,"r":"S_circular_insula_inf","c":"Full","v":0.1064},{"p":1,"r":"S_circular_insula_inf","c":"Full","v":0.1123},
{"p":1,"r":"S_calcarine","c":"Syntax","v":0.09},{"p":1,"r":"S_calcarine","c":"Reasoning","v":0.1327},
{"p":1,"r":"S_temporal_sup","c":"Syntax","v":0.1351},{"p":1,"r":"S_temporal_sup","c":"Reasoning","v":0.0496},{"p":1,"r":"S_temporal_sup","c":"Full","v":0.0959},
{"p":1,"r":"G_pariet_inf-Angular","c":"Lexicon","v":0.1229},{"p":1,"r":"G_pariet_inf-Angular","c":"Syntax","v":0.1628},
{"p":1,"r":"G_pariet_inf-Angular","c":"Meaning","v":0.1452},{"p":1,"r":"G_pariet_inf-Angular","c":"Full","v":0.2121},
{"p":1,"r":"G_insular_short","c":"Syntax","v":0.0811},{"p":1,"r":"G_insular_short","c":"Syntax","v":0.0849},{"p":1,"r":"G_insular_short","c":"Reasoning","v":0.1041},
{"p":1,"r":"G_Ins_lg_and_S_cent_ins","c":"Lexicon","v":0.1651},
{"p":1,"r":"G_Ins_lg_and_S_cent_ins","c":"Syntax","v":0.0834},{"p":1,"r":"G_Ins_lg_and_S_cent_ins","c":"Syntax","v":0.0942},
{"p":1,"r":"G_Ins_lg_and_S_cent_ins","c":"Meaning","v":0.1006},{"p":1,"r":"G_Ins_lg_and_S_cent_ins","c":"Meaning","v":0.1041},
{"p":1,"r":"G_Ins_lg_and_S_cent_ins","c":"Reasoning","v":0.0982},{"p":1,"r":"G_Ins_lg_and_S_cent_ins","c":"Reasoning","v":0.1006},
{"p":1,"r":"G_Ins_lg_and_S_cent_ins","c":"Full","v":0.1633},
{"p":2,"r":"G_and_S_cingul-Mid-Ant","c":"Syntax","v":0.0769},
{"p":2,"r":"G_oc-temp_lat-fusifor","c":"Syntax","v":0.0916},{"p":2,"r":"G_oc-temp_lat-fusifor","c":"Reasoning","v":0.094},
{"p":2,"r":"G_front_sup","c":"Syntax","v":0.0529},{"p":2,"r":"G_front_sup","c":"Syntax","v":0.0987},
{"p":2,"r":"G_front_sup","c":"Meaning","v":0.0952},{"p":2,"r":"G_front_sup","c":"Meaning","v":0.097},{"p":2,"r":"G_front_sup","c":"Meaning","v":0.0994},
{"p":2,"r":"G_front_sup","c":"Full","v":0.094},{"p":2,"r":"G_front_sup","c":"Full","v":0.0963}
],
"dia": [
{"p":1,"r":"G_temporal_inf","c":"Lexicon","v":0.0642},
{"p":1,"r":"G_occipital_middle","c":"Lexicon","v":0.059},
{"p":1,"r":"S_temporal_sup","c":"Lexicon","v":0.063},
{"p":1,"r":"Pole_occipital","c":"Lexicon","v":0.0595},{"p":1,"r":"Pole_occipital","c":"Syntax","v":0.06},
{"p":1,"r":"S_central","c":"Lexicon","v":0.0755},{"p":1,"r":"S_central","c":"Syntax","v":0.0952},{"p":1,"r":"S_central","c":"Reasoning","v":0.0567},
{"p":1,"r":"G_and_S_transv_frontopol","c":"Full","v":0.0567},
{"p":1,"r":"S_collat_transv_ant","c":"Lexicon","v":0.0454},
{"p":2,"r":"S_temporal_transverse","c":"Syntax","v":0.0651},{"p":2,"r":"S_temporal_transverse","c":"Meaning","v":0.0588},{"p":2,"r":"S_temporal_transverse","c":"Reasoning","v":0.0599},{"p":2,"r":"S_temporal_transverse","c":"Full","v":0.0557},
{"p":2,"r":"S_intrapariet_and_P_trans","c":"Syntax","v":0.044},{"p":2,"r":"S_intrapariet_and_P_trans","c":"Meaning","v":0.0588},{"p":2,"r":"S_intrapariet_and_P_trans","c":"Full","v":0.0588},{"p":2,"r":"S_intrapariet_and_P_trans","c":"Full","v":0.0651},
{"p":2,"r":"G_and_S_paracentral","c":"Reasoning","v":0.0658},{"p":2,"r":"G_and_S_paracentral","c":"Full","v":0.0553},
{"p":2,"r":"S_cingul-Marginalis","c":"Lexicon","v":0.0494},{"p":2,"r":"S_cingul-Marginalis","c":"Syntax","v":0.0675},{"p":2,"r":"S_cingul-Marginalis","c":"Meaning","v":0.0571},{"p":2,"r":"S_cingul-Marginalis","c":"Full","v":0.0651},
{"p":2,"r":"S_pericallosal","c":"Lexicon","v":0.0588},{"p":2,"r":"S_pericallosal","c":"Syntax","v":0.0658},{"p":2,"r":"S_pericallosal","c":"Reasoning","v":0.0564},{"p":2,"r":"S_pericallosal","c":"Full","v":0.0576},
{"p":2,"r":"G_and_S_cingul-Ant","c":"Meaning","v":0.0607},
{"p":2,"r":"G_and_S_cingul-Mid-Ant","c":"Lexicon","v":0.0564},{"p":2,"r":"G_and_S_cingul-Mid-Ant","c":"Reasoning","v":0.0541},
{"p":2,"r":"S_front_sup","c":"Meaning","v":0.0787},
{"p":2,"r":"S_orbital-H_Shaped","c":"Syntax","v":0.074},
{"p":2,"r":"S_circular_insula_ant","c":"Syntax","v":0.0642},{"p":2,"r":"S_circular_insula_ant","c":"Meaning","v":0.0553},{"p":2,"r":"S_circular_insula_ant","c":"Full","v":0.056},
{"p":2,"r":"G_temp_sup-G_T_transv","c":"Lexicon","v":0.063},
{"p":2,"r":"S_oc-temp_lat","c":"Reasoning","v":0.0806},{"p":2,"r":"S_oc-temp_lat","c":"Full","v":0.0588},
{"p":2,"r":"G_cingul-Post-ventral","c":"Reasoning","v":0.0806},{"p":2,"r":"G_cingul-Post-ventral","c":"Full","v":0.0675},
{"p":2,"r":"G_and_S_occipital_inf","c":"Syntax","v":0.0658},{"p":2,"r":"G_and_S_occipital_inf","c":"Meaning","v":0.0642},{"p":2,"r":"G_and_S_occipital_inf","c":"Reasoning","v":0.0595},{"p":2,"r":"G_and_S_occipital_inf","c":"Full","v":0.0642},
{"p":2,"r":"S_parieto_occipital","c":"Lexicon","v":0.0642},{"p":2,"r":"S_parieto_occipital","c":"Meaning","v":0.0675},{"p":2,"r":"S_parieto_occipital","c":"Reasoning","v":0.0553},{"p":2,"r":"S_parieto_occipital","c":"Full","v":0.0611},
{"p":2,"r":"Lat_Fis-ant-Vertical","c":"Syntax","v":0.0658},
{"p":2,"r":"S_precentral-sup-part","c":"Lexicon","v":0.0557},{"p":2,"r":"S_precentral-sup-part","c":"Meaning","v":0.0623},
{"p":2,"r":"S_orbital_med-olfact","c":"Lexicon","v":0.094},{"p":2,"r":"S_orbital_med-olfact","c":"Meaning","v":0.0928},{"p":2,"r":"S_orbital_med-olfact","c":"Reasoning","v":0.0764},{"p":2,"r":"S_orbital_med-olfact","c":"Full","v":0.0689},
{"p":2,"r":"S_temporal_inf","c":"Syntax","v":0.0604},{"p":2,"r":"S_temporal_inf","c":"Reasoning","v":0.0564}
]
},
"spacing": 176,
"bounds": "flush",
"resolve": {"legend": {"color": "independent"}},
"hconcat": [
{
 "width": 340, "height": 1110,
 "encoding": {
  "y": {"field": "r", "type": "nominal", "scale": {"domain": ["G_temporal_middle","G_temp_sup-Lateral","G_pariet_inf-Supramar","G_temp_sup-Plan_tempo","G_front_inf-Opercular","G_and_S_subcentral","G_front_inf-Triangul","G_precentral","G_postcentral","G_front_middle","Pole_temporal","G_oc-temp_med-Parahip","G_temporal_inf","S_oc_sup_and_transversal","G_occipital_middle","G_orbital","G_front_inf-Orbital","Unknown","S_circular_insula_inf","S_calcarine","S_temporal_sup","G_pariet_inf-Angular","Pole_occipital","G_occipital_sup","S_central","G_and_S_transv_frontopol","G_insular_short","G_Ins_lg_and_S_cent_ins","Lat_Fis-post","S_collat_transv_ant"], "paddingInner": 0.16, "paddingOuter": 0.08},
   "axis": {"title": "Brain Region", "titleAngle": 90, "titleFontSize": 16.5, "titleFontWeight": "normal", "titleX": -177, "titleY": 555, "titleAlign": "center", "titleBaseline": "middle", "labelFontSize": 11.6, "labelPadding": 12, "labelLimit": 300}},
  "yOffset": {"field": "c", "type": "nominal", "scale": {"domain": ["Lexicon","Syntax","Meaning","Reasoning","Full"], "paddingInner": 0.05, "paddingOuter": 0}}
 },
 "layer": [
  {"data": {"name": "boxes"}, "transform": [{"filter": "datum.p == 1"}],
   "mark": {"type": "rule", "color": "#3d3d3d", "strokeWidth": 1},
   "encoding": {"x": {"field": "lo", "type": "quantitative", "title": "Peak Correlation", "scale": {"domain": [0.021, 0.26], "nice": false, "zero": false},
     "axis": {"orient": "top", "values": [0.05, 0.1, 0.15, 0.2, 0.25], "format": ".2f", "labelAngle": 90, "labelAlign": "right", "labelBaseline": "middle", "labelFontSize": 14.4, "labelPadding": 12, "titleFontSize": 16.5, "titleFontWeight": "normal", "titlePadding": 7}},
    "x2": {"field": "hi"}}},
  {"data": {"name": "boxes"}, "transform": [{"filter": "datum.p == 1"}],
   "mark": {"type": "tick", "color": "#3d3d3d", "size": 4},
   "encoding": {"x": {"field": "lo", "type": "quantitative", "title": "Peak Correlation"}}},
  {"data": {"name": "boxes"}, "transform": [{"filter": "datum.p == 1"}],
   "mark": {"type": "tick", "color": "#3d3d3d", "size": 4},
   "encoding": {"x": {"field": "hi", "type": "quantitative", "title": "Peak Correlation"}}},
  {"data": {"name": "boxes"}, "transform": [{"filter": "datum.p == 1"}],
   "mark": {"type": "bar", "stroke": "#3d3d3d", "strokeWidth": 1},
   "encoding": {"x": {"field": "q1", "type": "quantitative", "title": "Peak Correlation"}, "x2": {"field": "q3"},
    "color": {"field": "c", "type": "nominal", "scale": {"domain": ["Lexicon","Syntax","Meaning","Reasoning","Full"], "range": ["#8bc1d8","#d587c1","#6dbf68","#e0895a","#797979"]},
     "legend": {"orient": "none", "legendX": 313, "legendY": 623, "direction": "vertical", "title": null, "symbolType": "M-0.42,-1L0.42,-1L0.42,1L-0.42,1Z", "symbolSize": 576, "symbolStrokeColor": "#3d3d3d", "symbolStrokeWidth": 1, "symbolOpacity": 1, "labelFontSize": 11.6, "labelColor": "#262626", "labelOffset": 0, "labelAlign": "left", "labelBaseline": "middle", "gridAlign": "each", "rowPadding": 20,
      "encoding": {"labels": {"angle": {"value": 90}, "dx": {"value": 22}, "dy": {"value": 12}}}}}}},
  {"data": {"name": "boxes"}, "transform": [{"filter": "datum.p == 1"}],
   "mark": {"type": "tick", "color": "#3d3d3d", "size": 6},
   "encoding": {"x": {"field": "md", "type": "quantitative", "title": "Peak Correlation"}}},
  {"data": {"name": "pts"}, "transform": [{"filter": "datum.p == 1"}],
   "mark": {"type": "point", "filled": true, "color": "#444444", "size": 5, "opacity": 0.75},
   "encoding": {"x": {"field": "v", "type": "quantitative", "title": "Peak Correlation"}}},
  {"data": {"name": "dia"}, "transform": [{"filter": "datum.p == 1"}],
   "mark": {"type": "point", "filled": true, "color": "#3a3a3a", "shape": "M0,-1L0.4,0L0,1L-0.4,0Z", "size": 40, "opacity": 1},
   "encoding": {"x": {"field": "v", "type": "quantitative", "title": "Peak Correlation"}}}
 ]
},
{
 "width": 340, "height": 1110,
 "encoding": {
  "y": {"field": "r", "type": "nominal", "scale": {"domain": ["S_temporal_transverse","S_intrapariet_and_P_trans","G_and_S_paracentral","S_cingul-Marginalis","S_pericallosal","G_and_S_cingul-Ant","G_and_S_cingul-Mid-Ant","S_front_sup","S_orbital-H_Shaped","S_circular_insula_ant","None","S_circular_insula_sup","G_oc-temp_lat-fusifor","G_front_sup","G_temp_sup-Plan_polar","G_temp_sup-G_T_transv","G_oc-temp_med_and_Lingual","S_oc-temp_lat","G_cingul-Post-ventral","G_parietal_sup","G_and_S_occipital_inf","S_parieto_occipital","S_front_inf","G_precuneus","S_precentral-inf-part","S_subparietal","S_postcentral","Lat_Fis-ant-Vertical","S_precentral-sup-part","S_orbital_med-olfact","S_temporal_inf"], "paddingInner": 0.16, "paddingOuter": 0.08},
   "axis": {"title": null, "labelFontSize": 11.6, "labelPadding": 11, "labelLimit": 300}},
  "yOffset": {"field": "c", "type": "nominal", "scale": {"domain": ["Lexicon","Syntax","Meaning","Reasoning","Full"], "paddingInner": 0.05, "paddingOuter": 0}}
 },
 "layer": [
  {"data": {"name": "boxes"}, "transform": [{"filter": "datum.p == 2"}],
   "mark": {"type": "rule", "color": "#3d3d3d", "strokeWidth": 1},
   "encoding": {"x": {"field": "lo", "type": "quantitative", "title": "Peak Correlation", "scale": {"domain": [0.021, 0.26], "nice": false, "zero": false},
     "axis": {"orient": "top", "values": [0.05, 0.1, 0.15, 0.2, 0.25], "format": ".2f", "labelAngle": 90, "labelAlign": "right", "labelBaseline": "middle", "labelFontSize": 14.4, "labelPadding": 12, "titleFontSize": 16.5, "titleFontWeight": "normal", "titlePadding": 7}},
    "x2": {"field": "hi"}}},
  {"data": {"name": "boxes"}, "transform": [{"filter": "datum.p == 2"}],
   "mark": {"type": "tick", "color": "#3d3d3d", "size": 4},
   "encoding": {"x": {"field": "lo", "type": "quantitative", "title": "Peak Correlation"}}},
  {"data": {"name": "boxes"}, "transform": [{"filter": "datum.p == 2"}],
   "mark": {"type": "tick", "color": "#3d3d3d", "size": 4},
   "encoding": {"x": {"field": "hi", "type": "quantitative", "title": "Peak Correlation"}}},
  {"data": {"name": "boxes"}, "transform": [{"filter": "datum.p == 2"}],
   "mark": {"type": "bar", "stroke": "#3d3d3d", "strokeWidth": 1},
   "encoding": {"x": {"field": "q1", "type": "quantitative", "title": "Peak Correlation"}, "x2": {"field": "q3"},
    "color": {"field": "c", "type": "nominal", "scale": {"domain": ["Lexicon","Syntax","Meaning","Reasoning","Full"], "range": ["#8bc1d8","#d587c1","#6dbf68","#e0895a","#797979"]},
     "legend": {"orient": "none", "legendX": 309, "legendY": 624, "direction": "vertical", "title": null, "symbolType": "M-0.42,-1L0.42,-1L0.42,1L-0.42,1Z", "symbolSize": 576, "symbolStrokeColor": "#3d3d3d", "symbolStrokeWidth": 1, "symbolOpacity": 1, "labelFontSize": 11.6, "labelColor": "#262626", "labelOffset": 0, "labelAlign": "left", "labelBaseline": "middle", "gridAlign": "each", "rowPadding": 20,
      "encoding": {"labels": {"angle": {"value": 90}, "dx": {"value": 22}, "dy": {"value": 12}}}}}}},
  {"data": {"name": "boxes"}, "transform": [{"filter": "datum.p == 2"}],
   "mark": {"type": "tick", "color": "#3d3d3d", "size": 6},
   "encoding": {"x": {"field": "md", "type": "quantitative", "title": "Peak Correlation"}}},
  {"data": {"name": "pts"}, "transform": [{"filter": "datum.p == 2"}],
   "mark": {"type": "point", "filled": true, "color": "#444444", "size": 5, "opacity": 0.75},
   "encoding": {"x": {"field": "v", "type": "quantitative", "title": "Peak Correlation"}}},
  {"data": {"name": "dia"}, "transform": [{"filter": "datum.p == 2"}],
   "mark": {"type": "point", "filled": true, "color": "#3a3a3a", "shape": "M0,-1L0.4,0L0,1L-0.4,0Z", "size": 40, "opacity": 1},
   "encoding": {"x": {"field": "v", "type": "quantitative", "title": "Peak Correlation"}}}
 ]
}
]
}
